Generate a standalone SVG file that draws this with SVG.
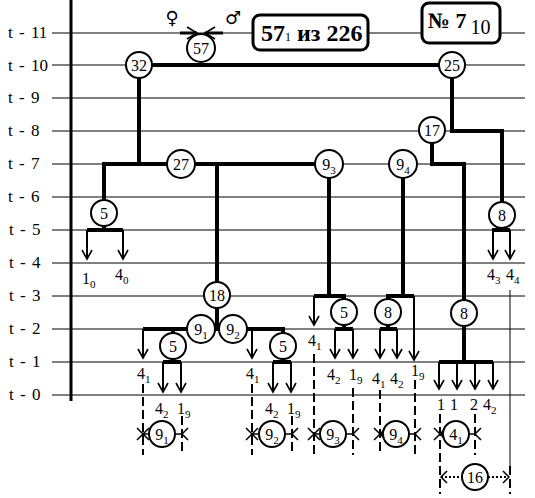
<svg xmlns="http://www.w3.org/2000/svg" width="535" height="498" viewBox="0 0 535 498">
<defs>
<style>
.grid{stroke:#000;stroke-width:1;fill:none}
.thick{stroke:#000;stroke-width:4;fill:none}
.arr{stroke:#000;stroke-width:2;fill:none;marker-end:url(#chev)}
.dash{stroke:#000;stroke-width:2;stroke-dasharray:9 4;fill:none}
.dot{stroke:#000;stroke-width:2;stroke-dasharray:2 2;fill:none}
.sym{stroke:#000;stroke-width:1.5;fill:none}
circle{fill:#fff;stroke:#000;stroke-width:2}
.row{font-size:17px;word-spacing:2px}
.nt{font-size:16px;text-anchor:middle}
.lb{font-size:16px}
.sb{font-size:11px}
</style>
<marker id="chev" markerUnits="userSpaceOnUse" markerWidth="12" markerHeight="12" refX="10" refY="6" orient="auto" viewBox="0 0 12 12">
<path d="M1,1 L10,6 L1,11" fill="none" stroke="#000" stroke-width="1.6"/>
</marker>
<marker id="chev2" markerUnits="userSpaceOnUse" markerWidth="14" markerHeight="14" refX="11" refY="7" orient="auto" viewBox="0 0 14 14">
<path d="M1,1 L11,7 L1,13" fill="none" stroke="#000" stroke-width="1.6"/>
</marker>
</defs>
<rect width="535" height="498" fill="#fff"/>
<g font-family="'Liberation Serif', 'DejaVu Serif', serif" fill="#000">

<g id="grid">
<line class="grid" x1="52" y1="33" x2="525" y2="33"/>
<line class="grid" x1="52" y1="65" x2="525" y2="65"/>
<line class="grid" x1="52" y1="98" x2="525" y2="98"/>
<line class="grid" x1="52" y1="131" x2="525" y2="131"/>
<line class="grid" x1="52" y1="164" x2="525" y2="164"/>
<line class="grid" x1="52" y1="197" x2="525" y2="197"/>
<line class="grid" x1="52" y1="230" x2="525" y2="230"/>
<line class="grid" x1="52" y1="263" x2="525" y2="263"/>
<line class="grid" x1="52" y1="296" x2="525" y2="296"/>
<line class="grid" x1="52" y1="329" x2="525" y2="329"/>
<line class="grid" x1="52" y1="362" x2="525" y2="362"/>
<line class="grid" x1="52" y1="395" x2="525" y2="395"/>
<line x1="71" y1="0" x2="71" y2="401" stroke="#000" stroke-width="3"/>
<text class="row" x="8" y="38">t - 11</text>
<text class="row" x="8" y="71">t - 10</text>
<text class="row" x="8" y="103">t - 9</text>
<text class="row" x="8" y="136">t - 8</text>
<text class="row" x="8" y="169">t - 7</text>
<text class="row" x="8" y="202">t - 6</text>
<text class="row" x="9" y="235">t - 5</text>
<text class="row" x="9" y="268">t - 4</text>
<text class="row" x="9" y="301">t - 3</text>
<text class="row" x="9" y="334">t - 2</text>
<text class="row" x="9" y="367">t - 1</text>
<text class="row" x="9" y="400">t - 0</text>
</g>

<g id="connectors">
<line x1="180" y1="33" x2="197" y2="33" stroke="#000" stroke-width="3" marker-end="url(#chev2)"/>
<line x1="223" y1="33" x2="205" y2="33" stroke="#000" stroke-width="3" marker-end="url(#chev2)"/>
<line class="thick" x1="139" y1="65" x2="452" y2="65"/>
<path class="thick" d="M139,65 V164"/>
<path class="thick" d="M452,65 V131 H502 V215"/>
<path class="thick" d="M432,131 V164 H464 V313"/>
<path class="thick" d="M104,213 V164 H329"/>
<path class="thick" d="M329,164 V296"/>
<path class="thick" d="M403,164 V296"/>
<path class="thick" d="M217,164 V329"/>
<path class="thick" d="M104,213 V230"/>
<path class="thick" d="M87,230 H123"/>
<line class="arr" x1="87" y1="230" x2="87" y2="259"/>
<line class="arr" x1="123" y1="230" x2="123" y2="259"/>
<path class="thick" d="M502,215 V230"/>
<path class="thick" d="M492,230 H510"/>
<line class="arr" x1="493" y1="230" x2="493" y2="259"/>
<line class="arr" x1="510" y1="230" x2="510" y2="259"/>
<line class="grid" x1="510" y1="290" x2="510" y2="466"/>
<line class="dash" x1="510" y1="466" x2="510" y2="494" stroke-dasharray="8 4"/>
<path class="thick" d="M143,329 H283 V346"/>
<path class="thick" d="M173,329 V346"/>
<line class="arr" x1="143" y1="329" x2="143" y2="358"/>
<line class="arr" x1="252" y1="329" x2="252" y2="358"/>
<path class="thick" d="M173,346 V362"/>
<path class="thick" d="M163,362 H181"/>
<line class="arr" x1="163" y1="362" x2="163" y2="392"/>
<line class="arr" x1="181" y1="362" x2="181" y2="392"/>
<path class="thick" d="M283,346 V362"/>
<path class="thick" d="M273,362 H291"/>
<line class="arr" x1="273" y1="362" x2="273" y2="392"/>
<line class="arr" x1="291" y1="362" x2="291" y2="392"/>
<path class="thick" d="M314,296 H344 V312"/>
<line class="arr" x1="314" y1="296" x2="314" y2="325"/>
<path class="thick" d="M344,312 V329"/>
<path class="thick" d="M335,329 H353"/>
<line class="arr" x1="335" y1="329" x2="335" y2="358"/>
<line class="arr" x1="353" y1="329" x2="353" y2="358"/>
<path class="thick" d="M388,312 V296 H414"/>
<line class="arr" x1="414" y1="296" x2="414" y2="360"/>
<path class="thick" d="M388,312 V329"/>
<path class="thick" d="M380,329 H397"/>
<line class="arr" x1="380" y1="329" x2="380" y2="358"/>
<line class="arr" x1="397" y1="329" x2="397" y2="358"/>
<path class="thick" d="M464,313 V362"/>
<path class="thick" d="M439,362 H493"/>
<line class="arr" x1="439" y1="362" x2="439" y2="389"/>
<line class="arr" x1="457" y1="362" x2="457" y2="389"/>
<line class="arr" x1="475" y1="362" x2="475" y2="389"/>
<line class="arr" x1="493" y1="362" x2="493" y2="389"/>
<line class="dash" x1="143" y1="384" x2="143" y2="455"/>
<line class="dash" x1="182" y1="416" x2="182" y2="455"/>
<line class="dash" x1="252" y1="384" x2="252" y2="455"/>
<line class="dash" x1="292" y1="416" x2="292" y2="455"/>
<line class="dash" x1="314" y1="354" x2="314" y2="455"/>
<line class="dash" x1="353" y1="388" x2="353" y2="455"/>
<line class="dash" x1="380" y1="390" x2="380" y2="455"/>
<line class="dash" x1="415" y1="380" x2="415" y2="455"/>
<line class="dash" x1="440" y1="414" x2="440" y2="494"/>
<line class="dash" x1="475" y1="414" x2="475" y2="455"/>
<path class="sym" d="M137,428 L149,440 M137,440 L149,428 M143,434 H149 M176,434 H182 M188,428 L182,434 L188,440"/>
<path class="sym" d="M246,428 L258,440 M246,440 L258,428 M252,434 H259 M285,434 H292 M298,428 L292,434 L298,440"/>
<path class="sym" d="M308,428 L320,440 M308,440 L320,428 M314,434 H320 M346,434 H353 M359,428 L353,434 L359,440"/>
<path class="sym" d="M374,428 L386,440 M374,440 L386,428 M380,434 H383 M409,434 H415 M421,428 L415,434 L421,440"/>
<path class="sym" d="M434,428 L446,440 M434,440 L446,428 M440,434 H443 M469,434 H475 M481,428 L475,434 L481,440"/>
<path class="dot" d="M441,477 H462 M488,477 H509"/>
<path class="sym" d="M447,471 L441,477 L447,483 M503,471 L509,477 L503,483"/>
</g>

<g id="sexes" font-family="'DejaVu Sans', sans-serif">
<text x="172" y="24" font-size="18" text-anchor="middle">♀</text>
<text x="233" y="24" font-size="18" text-anchor="middle">♂</text>
</g>

<g id="box-total">
<rect x="253" y="15" width="115" height="35" rx="7" fill="#fff" stroke="#000" stroke-width="3"/>
<text x="261" y="41" font-size="24" font-weight="bold">57<tspan font-size="12" font-weight="normal">1</tspan> из 226</text>
</g>
<g id="box-number">
<rect x="422" y="3" width="78" height="40" rx="7" fill="#fff" stroke="#000" stroke-width="3"/>
<text x="428" y="28" font-size="22" font-weight="bold">№ 7<tspan font-size="20" font-weight="normal" dx="4" dy="6">10</tspan></text>
</g>

<g id="n57" class="node"><circle cx="201" cy="48" r="14"/><text class="nt" x="201" y="54">57</text></g>
<g id="n32" class="node"><circle cx="139" cy="65" r="13"/><text class="nt" x="139" y="71">32</text></g>
<g id="n25" class="node"><circle cx="452" cy="65" r="13"/><text class="nt" x="452" y="71">25</text></g>
<g id="n17" class="node"><circle cx="432" cy="130" r="13"/><text class="nt" x="432" y="136">17</text></g>
<g id="n27" class="node"><circle cx="181" cy="164" r="14"/><text class="nt" x="181" y="170">27</text></g>
<g id="n9_3" class="node"><circle cx="329" cy="164" r="14"/><text class="nt" x="329" y="170">9<tspan class="sb" dy="4">3</tspan></text></g>
<g id="n9_4" class="node"><circle cx="403" cy="164" r="14"/><text class="nt" x="403" y="170">9<tspan class="sb" dy="4">4</tspan></text></g>
<g id="n5a" class="node"><circle cx="104" cy="213" r="13"/><text class="nt" x="104" y="219">5</text></g>
<g id="n8a" class="node"><circle cx="502" cy="215" r="13"/><text class="nt" x="502" y="221">8</text></g>
<g id="n18" class="node"><circle cx="217" cy="295" r="13"/><text class="nt" x="217" y="301">18</text></g>
<g id="n9_1" class="node"><circle cx="201" cy="329" r="14"/><text class="nt" x="201" y="335">9<tspan class="sb" dy="4">1</tspan></text></g>
<g id="n9_2" class="node"><circle cx="233" cy="329" r="14"/><text class="nt" x="233" y="335">9<tspan class="sb" dy="4">2</tspan></text></g>
<g id="n5b" class="node"><circle cx="173" cy="346" r="13"/><text class="nt" x="173" y="352">5</text></g>
<g id="n5c" class="node"><circle cx="283" cy="346" r="13"/><text class="nt" x="283" y="352">5</text></g>
<g id="n5d" class="node"><circle cx="344" cy="312" r="13"/><text class="nt" x="344" y="318">5</text></g>
<g id="n8b" class="node"><circle cx="388" cy="312" r="13"/><text class="nt" x="388" y="318">8</text></g>
<g id="n8c" class="node"><circle cx="464" cy="313" r="13"/><text class="nt" x="464" y="319">8</text></g>
<g id="b9_1" class="node"><circle cx="162" cy="434" r="13"/><text class="nt" x="162" y="440">9<tspan class="sb" dy="4">1</tspan></text></g>
<g id="b9_2" class="node"><circle cx="272" cy="434" r="13"/><text class="nt" x="272" y="440">9<tspan class="sb" dy="4">2</tspan></text></g>
<g id="b9_3" class="node"><circle cx="333" cy="434" r="13"/><text class="nt" x="333" y="440">9<tspan class="sb" dy="4">3</tspan></text></g>
<g id="b9_4" class="node"><circle cx="396" cy="434" r="13"/><text class="nt" x="396" y="440">9<tspan class="sb" dy="4">4</tspan></text></g>
<g id="b4_1" class="node"><circle cx="456" cy="434" r="13"/><text class="nt" x="456" y="440">4<tspan class="sb" dy="4">1</tspan></text></g>
<g id="b16" class="node"><circle cx="475" cy="477" r="13"/><text class="nt" x="475" y="483">16</text></g>

<g id="labels">
<text class="lb" x="82" y="284">1<tspan class="sb" dy="4">0</tspan></text>
<text class="lb" x="115" y="280">4<tspan class="sb" dy="4">0</tspan></text>
<text class="lb" x="487" y="280">4<tspan class="sb" dy="4">3</tspan></text>
<text class="lb" x="506" y="280">4<tspan class="sb" dy="4">4</tspan></text>
<text class="lb" x="137" y="379">4<tspan class="sb" dy="4">1</tspan></text>
<text class="lb" x="155" y="414">4<tspan class="sb" dy="4">2</tspan></text>
<text class="lb" x="177" y="414">1<tspan class="sb" dy="4">9</tspan></text>
<text class="lb" x="246" y="379">4<tspan class="sb" dy="4">1</tspan></text>
<text class="lb" x="265" y="414">4<tspan class="sb" dy="4">2</tspan></text>
<text class="lb" x="287" y="414">1<tspan class="sb" dy="4">9</tspan></text>
<text class="lb" x="308" y="346">4<tspan class="sb" dy="4">1</tspan></text>
<text class="lb" x="327" y="380">4<tspan class="sb" dy="4">2</tspan></text>
<text class="lb" x="349" y="380">1<tspan class="sb" dy="4">9</tspan></text>
<text class="lb" x="372" y="384">4<tspan class="sb" dy="4">1</tspan></text>
<text class="lb" x="390" y="384">4<tspan class="sb" dy="4">2</tspan></text>
<text class="lb" x="411" y="376">1<tspan class="sb" dy="4">9</tspan></text>
<text class="lb" x="437" y="410">1</text>
<text class="lb" x="450" y="410">1</text>
<text class="lb" x="470" y="410">2</text>
<text class="lb" x="483" y="410">4<tspan class="sb" dy="4">2</tspan></text>
</g>
</g>
</svg>
